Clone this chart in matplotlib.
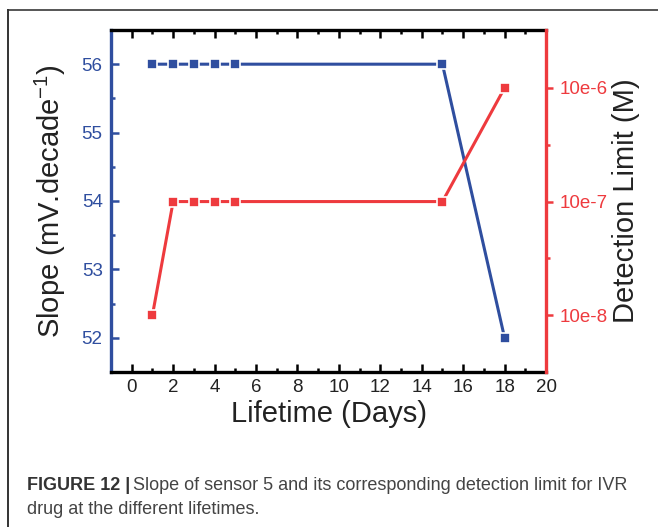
import matplotlib
matplotlib.use("Agg")
import matplotlib.pyplot as plt
from matplotlib.lines import Line2D
from matplotlib.ticker import FixedLocator, NullFormatter

plt.rcParams["font.family"] = ["Liberation Sans", "DejaVu Sans"]

BLUE = "#2F4E9F"
RED = "#EE3A3E"
TXT = "#222222"

days = [1, 2, 3, 4, 5, 15, 18]
slope = [56, 56, 56, 56, 56, 56, 52]
det_limit = [10e-8, 10e-7, 10e-7, 10e-7, 10e-7, 10e-7, 10e-6]
dl_ticks = [10e-8, 10e-7, 10e-6]
dl_labels = ["10e-8", "10e-7", "10e-6"]

fig = plt.figure(figsize=(6.58, 5.27), dpi=100)
ax = fig.add_axes([0.1687, 0.2941, 0.8298 - 0.1687, 0.9431 - 0.2941])
ax2 = ax.twinx()

mk = dict(marker="s", markersize=7, markeredgecolor="white",
          markeredgewidth=1.2, linewidth=2.2)
ax.plot(days, slope, color=BLUE, markerfacecolor=BLUE, zorder=3, **mk)
ax2.plot(days, det_limit, color=RED, markerfacecolor=RED, zorder=3, **mk)

ax.set_xlim(-1, 20)
ax.set_ylim(51.5, 56.5)
ax2.set_yscale("log")
ax2.set_ylim(10 ** -7.5, 10 ** -4.49)

ax.set_xticks(range(0, 21, 2))
ax.xaxis.set_minor_locator(FixedLocator(range(1, 20, 2)))
ax.set_yticks([52, 53, 54, 55, 56])
ax.yaxis.set_minor_locator(FixedLocator([52.5, 53.5, 54.5, 55.5]))
ax2.set_yticks(dl_ticks)
ax2.set_yticklabels(dl_labels)
ax2.yaxis.set_minor_locator(FixedLocator([10 ** -6.5, 10 ** -5.5]))
ax2.yaxis.set_minor_formatter(NullFormatter())

for s in ("top", "bottom"):
    ax.spines[s].set_color("black")
    ax.spines[s].set_linewidth(2.4)
ax.spines["left"].set_color(BLUE)
ax.spines["left"].set_linewidth(2.4)
ax.spines["right"].set_visible(False)
for s in ("top", "bottom", "left"):
    ax2.spines[s].set_visible(False)
ax2.spines["right"].set_color(RED)
ax2.spines["right"].set_linewidth(2.4)

ax.tick_params(axis="x", which="both", direction="in", top=True,
               color="black", width=1.8, labelsize=13.5, labelcolor=TXT,
               pad=5)
ax.tick_params(axis="x", which="major", length=6)
ax.tick_params(axis="x", which="minor", length=3)
ax.tick_params(axis="y", which="both", direction="in", color=BLUE,
               width=1.8, labelsize=13.5, labelcolor=BLUE, pad=6)
ax.tick_params(axis="y", which="major", length=6)
ax.tick_params(axis="y", which="minor", length=3)
ax2.tick_params(axis="y", which="both", direction="out", color=RED,
                width=1.8, labelsize=13.5, labelcolor=RED, pad=5)
ax2.tick_params(axis="y", which="major", length=5)
ax2.tick_params(axis="y", which="minor", length=3)

ax.set_xlabel("Lifetime (Days)", fontsize=21, color=TXT, labelpad=3)
ax.set_ylabel("Slope (mV.decade$^{\\mathregular{-1}}$)", fontsize=21,
              color=TXT, labelpad=10)
ax2.set_ylabel("Detection Limit (M)", fontsize=21, color=TXT, labelpad=3)

# outer frame of the figure panel
fig.add_artist(Line2D([8 / 658, 1.0], [1 - 10 / 527, 1 - 10 / 527],
                      color="#555555", linewidth=1.4))
fig.add_artist(Line2D([8 / 658, 8 / 658], [0, 1 - 10 / 527],
                      color="#333333", linewidth=1.4))

# caption
cap_x = 27 / 658
bold = fig.text(cap_x, 1 - 485 / 527, "FIGURE 12 |", fontsize=13,
                fontweight="bold", color="#333333", va="center")
fig.canvas.draw()
bb = bold.get_window_extent(fig.canvas.get_renderer())
fig.text(bb.x1 / fig.bbox.width + 0.004, 1 - 485 / 527,
         "Slope of sensor 5 and its corresponding detection limit for IVR",
         fontsize=13, color="#444444", va="center")
fig.text(cap_x, 1 - 510 / 527, "drug at the different lifetimes.",
         fontsize=13, color="#444444", va="center")

fig.savefig("out.png", dpi=100)
